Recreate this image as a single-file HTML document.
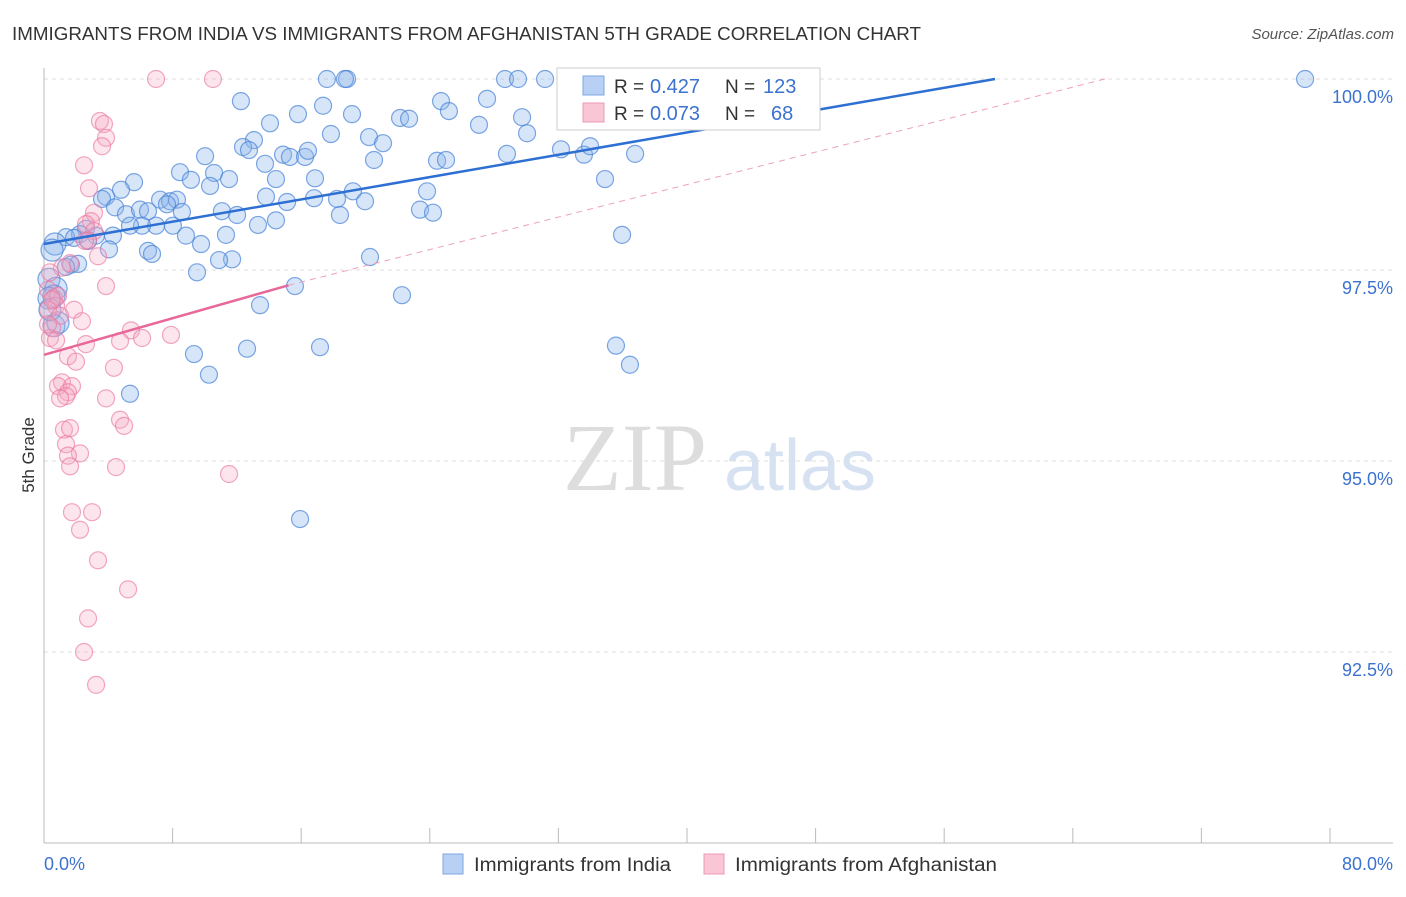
<!DOCTYPE html>
<html><head><meta charset="utf-8"><style>
body{margin:0;background:#fff;font-family:"Liberation Sans",sans-serif}
svg text{font-family:"Liberation Sans",sans-serif}
</style></head><body>
<svg id="c" width="1406" height="892">
<text x="12" y="40" font-size="18" fill="#333" textLength="909" lengthAdjust="spacingAndGlyphs">IMMIGRANTS FROM INDIA VS IMMIGRANTS FROM AFGHANISTAN 5TH GRADE CORRELATION CHART</text>
<text x="1394" y="39" font-size="15" fill="#555" text-anchor="end" font-style="italic">Source: ZipAtlas.com</text>
<text x="34" y="455" font-size="17" fill="#333" text-anchor="middle" transform="rotate(-90 34 455)">5th Grade</text>
<g><text x="635" y="490" font-size="96" fill="#ddd" text-anchor="middle" font-family="Liberation Serif" style="font-family:'Liberation Serif',serif">ZIP</text><text x="800" y="490" font-size="72" fill="#d6e2f2" text-anchor="middle">atlas</text></g>
<g id="grid"></g><g id="axes"></g><g id="pts"></g><g id="trend"></g>
<g>
<rect x="557" y="68" width="263" height="62" fill="#fff" stroke="#ccc"/>
<rect x="583" y="76" width="21" height="19" fill="#b8d0f3" stroke="#7ea6e3"/>
<rect x="583" y="103" width="21" height="19" fill="#f8c6d5" stroke="#ee9ab3"/>
<text x="614" y="93" font-size="19" fill="#333">R =</text><text x="650" y="93" font-size="20" fill="#3c72cf">0.427</text>
<text x="725" y="93" font-size="19" fill="#333">N =</text><text x="763" y="93" font-size="20" fill="#3c72cf">123</text>
<text x="614" y="120" font-size="19" fill="#333">R =</text><text x="650" y="120" font-size="20" fill="#3c72cf">0.073</text>
<text x="725" y="120" font-size="19" fill="#333">N =</text><text x="771" y="120" font-size="20" fill="#3c72cf">68</text>
</g>
<g>
<rect x="443" y="854" width="20" height="20" fill="#b8d0f3" stroke="#7ea6e3"/>
<text x="474" y="871" font-size="19" fill="#333" textLength="197" lengthAdjust="spacingAndGlyphs">Immigrants from India</text>
<rect x="704" y="854" width="20" height="20" fill="#f8c6d5" stroke="#ee9ab3"/>
<text x="735" y="871" font-size="19" fill="#333" textLength="262" lengthAdjust="spacingAndGlyphs">Immigrants from Afghanistan</text>
</g>
</svg>
<script>
const blueX=[17.60,18.85,18.72,28.68,29.49,31.17,78.45,12.25,17.36,24.70,27.56,15.80,19.16,22.15,22.71,25.19,29.74,27.06,14.06,17.85,20.22,30.05,13.06,12.38,21.09,12.75,10.02,14.87,15.30,16.24,16.42,20.53,24.45,25.01,28.80,32.16,33.59,33.97,36.77,13.75,8.46,10.58,11.51,9.14,14.43,16.86,10.33,5.60,4.79,3.86,3.61,7.22,7.84,8.27,7.65,13.81,15.12,16.80,18.23,19.22,19.97,23.83,34.90,4.42,5.10,5.97,6.47,8.58,11.07,12.01,23.39,24.20,18.41,14.43,13.31,6.97,6.10,8.02,5.35,2.61,2.24,3.23,4.29,8.83,11.32,1.37,1.87,2.74,0.68,0.50,4.04,6.47,6.72,9.77,20.28,11.70,10.89,1.68,2.12,1.37,9.52,0.31,0.75,0.62,15.61,22.27,0.31,13.44,35.96,9.33,12.63,17.17,35.58,36.45,10.26,5.35,15.93,0.62,0.87,0.37];
const blueY=[100,100,100,100,100,100,100,99.71,99.65,99.71,99.74,99.54,99.54,99.49,99.48,99.58,99.50,99.40,99.42,99.28,99.24,99.29,99.20,99.11,99.16,99.07,98.99,99.01,98.98,98.98,99.06,98.94,98.93,98.94,99.02,99.08,99.01,99.12,99.02,98.89,98.78,98.77,98.69,98.68,98.69,98.70,98.60,98.65,98.55,98.46,98.43,98.42,98.40,98.42,98.36,98.46,98.39,98.44,98.43,98.53,98.40,98.53,98.69,98.32,98.23,98.29,98.27,98.26,98.27,98.22,98.29,98.25,98.22,98.15,98.09,98.08,98.08,98.08,98.08,98.04,97.97,97.95,97.95,97.95,97.96,97.93,97.92,97.88,97.84,97.76,97.77,97.75,97.71,97.84,97.67,97.64,97.63,97.57,97.58,97.54,97.47,97.38,97.26,97.16,97.29,97.17,97.13,97.04,97.96,96.40,96.47,96.49,96.51,96.26,96.13,95.88,94.24,96.77,96.81,96.98];
const pinkX=[6.97,10.51,3.48,3.73,3.86,3.61,2.49,2.80,3.11,2.92,2.61,3.11,2.74,2.55,3.36,1.62,1.12,3.86,0.37,0.25,0.62,0.87,0.75,1.87,0.25,1.00,0.50,2.36,0.37,0.75,5.41,6.10,7.90,4.73,2.61,1.49,1.99,4.35,1.12,0.87,1.74,1.49,1.37,1.00,3.86,4.73,4.98,1.24,1.62,1.37,2.24,1.49,1.62,4.48,11.51,1.74,2.99,2.24,3.36,5.23,2.74,2.49,3.24,0.25,0.50];
const pinkY=[100,100,99.45,99.41,99.23,99.12,98.87,98.57,98.25,98.14,98.10,98.01,97.89,97.88,97.68,97.59,97.53,97.29,97.47,97.24,97.13,97.16,97.03,96.98,96.98,96.90,96.74,96.83,96.61,96.58,96.71,96.61,96.65,96.57,96.53,96.37,96.30,96.22,96.03,95.98,95.98,95.90,95.85,95.82,95.82,95.54,95.46,95.41,95.43,95.22,95.10,95.07,94.93,94.92,94.83,94.33,94.33,94.10,93.70,93.32,92.94,92.50,92.07,96.79,97.11];
const blueTrend=[[0,97.84],[59.16,100]];
const pinkTrendSolid=[[0,96.39],[15.21,97.30]];
const pinkTrendDash=[[15.21,97.30],[66.0,100]];
const yTicks=[100,97.5,95,92.5];
const yTickLabels=["100.0%","97.5%","95.0%","92.5%"];
const xTicks=[0,8,16,24,32,40,48,56,64,72,80];
const xTickLabels=["0.0%","80.0%"];

const NS="http://www.w3.org/2000/svg";
const X=v=>44+v*16.075, Y=v=>79+(100-v)*76.4;
function mk(tag,attrs,parent){const e=document.createElementNS(NS,tag);for(const k in attrs)e.setAttribute(k,attrs[k]);document.getElementById(parent).appendChild(e);return e;}
yTicks.forEach((t,i)=>{
  const l=mk('line',{x1:44,x2:1393,y1:Y(t),y2:Y(t),stroke:'#ddd','stroke-dasharray':'4,4'},'grid');
  
  
  const tx=mk('text',{x:1393,y:Y(t)+24,'font-size':18,fill:'#3c72cf','text-anchor':'end'},'axes');
  tx.textContent=yTickLabels[i];
  
  
});
const ax=mk('line',{x1:44,x2:1393,y1:843,y2:843,stroke:'#bbb'},'axes');


const ay=mk('line',{x1:44,x2:44,y1:68,y2:843,stroke:'#bbb'},'axes');


xTicks.forEach(t=>{
  const l=mk('line',{x1:X(t),x2:X(t),y1:828,y2:843,stroke:'#bbb'},'axes');
  
  
});
[[0,'start',44],[80,'end',1393]].forEach((d,i)=>{
  const tx=mk('text',{x:d[2],y:870,'font-size':18,fill:'#3c72cf','text-anchor':d[1]},'axes');
  tx.textContent=xTickLabels[i];
  
  
});
blueX.forEach((v,i)=>{
  const c=mk('circle',{cx:X(v),cy:Y(blueY[i]),r:v<1?11:8.5,fill:'rgba(140,180,235,0.35)',stroke:'rgba(70,130,215,0.7)','stroke-width':1.2},'pts');
  
  
});
pinkX.forEach((v,i)=>{
  const c=mk('circle',{cx:X(v),cy:Y(pinkY[i]),r:8.5,fill:'rgba(245,170,195,0.3)',stroke:'rgba(235,120,160,0.65)','stroke-width':1.2},'pts');
  
  
});
const bt=mk('line',{x1:X(blueTrend[0][0]),y1:Y(blueTrend[0][1]),x2:X(blueTrend[1][0]),y2:Y(blueTrend[1][1]),stroke:'#2d6fd2','stroke-width':2.5},'trend');


const pt=mk('line',{x1:X(pinkTrendSolid[0][0]),y1:Y(pinkTrendSolid[0][1]),x2:X(pinkTrendSolid[1][0]),y2:Y(pinkTrendSolid[1][1]),stroke:'#e8689a','stroke-width':2.5},'trend');


const pd=mk('line',{x1:X(pinkTrendDash[0][0]),y1:Y(pinkTrendDash[0][1]),x2:X(pinkTrendDash[1][0]),y2:Y(pinkTrendDash[1][1]),stroke:'#eea0bb','stroke-width':1,'stroke-dasharray':'6,5'},'trend');


</script>
</body></html>
